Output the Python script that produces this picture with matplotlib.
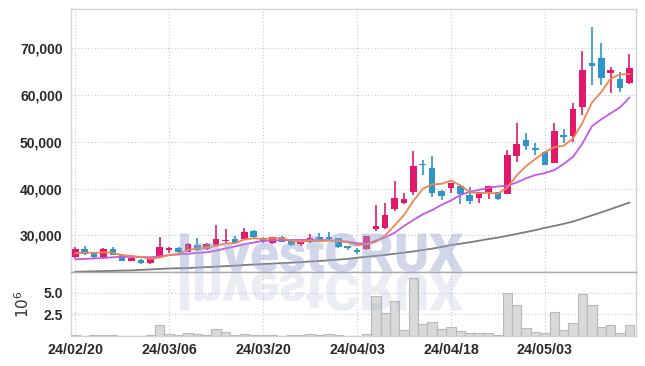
import numpy as np
import matplotlib.pyplot as plt
from matplotlib.textpath import TextPath
from matplotlib.patches import PathPatch
from matplotlib.font_manager import FontProperties
from matplotlib.transforms import Affine2D
from matplotlib.ticker import FuncFormatter

plt.rcParams['font.family'] = ['Liberation Sans', 'DejaVu Sans']

# tick labels on the date axis (every 10 trading days)
date_labels = ['24/02/20', '24/03/06', '24/03/20', '24/04/03', '24/04/18', '24/05/03']
date_pos = [0, 10, 20, 30, 40, 50]

opens = [25400, 27150, 26300, 25300, 27000, 25800, 24550, 24800, 24000, 25300,
         26850, 27200, 26500, 27850, 27000, 27850, 28700, 29150, 29150, 30900,
         29500, 28300, 29650, 28800, 28100, 28500, 29550, 29550, 29350, 27700,
         26850, 27000, 31300, 31500, 35550, 36950, 39350, 45350, 44350, 39550,
         40200, 40600, 38600, 37900, 39100, 39200, 38900, 47050, 50400, 48600,
         47750, 45550, 51450, 51250, 57500, 66800, 67850, 64650, 63350, 62500]
highs = [27550, 27700, 26400, 27350, 27550, 26000, 25300, 25000, 25300, 29550,
         27550, 27400, 28400, 29500, 28300, 32150, 31350, 29850, 31600, 31050,
         29600, 29700, 29800, 28900, 28800, 30200, 30550, 30750, 29500, 27800,
         27200, 29900, 36500, 36950, 41700, 39100, 48100, 46100, 46950, 39700,
         41200, 40700, 40400, 39300, 40650, 39300, 48250, 54100, 51800, 49800,
         47900, 54100, 52650, 58250, 69500, 74500, 71050, 66050, 65000, 68700]
lows = [25150, 25800, 25200, 25200, 25700, 24500, 24450, 23950, 23850, 25200,
        26150, 26300, 26400, 26700, 26900, 27700, 28300, 28300, 29000, 29500,
        28400, 28100, 28550, 27800, 27700, 28300, 29000, 29000, 27200, 26850,
        26050, 26900, 30900, 31300, 35250, 36700, 38600, 42900, 38250, 37550,
        39050, 36650, 36650, 36850, 37750, 37600, 38800, 45750, 48250, 47200,
        44950, 45400, 49800, 50000, 55750, 62150, 62150, 60400, 60700, 62400]
closes = [27000, 26000, 25300, 27150, 25800, 24550, 25150, 24150, 25000, 27450,
          27200, 26350, 28150, 26850, 28150, 29150, 29000, 28400, 30700, 29550,
          28500, 29550, 28650, 27900, 28650, 29500, 29150, 29150, 27550, 27200,
          26500, 29850, 32000, 34350, 37900, 37750, 44800, 45050, 39100, 38400,
          41100, 38850, 37350, 39200, 40550, 37700, 47200, 49450, 49150, 48200,
          45050, 52300, 50950, 56950, 65350, 66300, 63600, 65350, 61450, 65700]

# volume in millions of shares
volume = [0.15, 0.08, 0.12, 0.2, 0.1, 0.08, 0.05, 0.08, 0.12, 1.35,
          0.25, 0.1, 0.35, 0.25, 0.15, 0.8, 0.45, 0.15, 0.32, 0.12,
          0.15, 0.1, 0.06, 0.1, 0.12, 0.25, 0.18, 0.25, 0.15, 0.08,
          0.06, 0.32, 4.62, 2.68, 4.04, 0.76, 6.66, 1.38, 1.64, 0.88,
          1.06, 0.65, 0.34, 0.42, 0.42, 0.19, 4.93, 3.54, 1.0, 0.53,
          0.42, 2.73, 0.76, 1.57, 4.81, 3.54, 1.06, 1.34, 0.42, 1.34]

# moving averages as drawn on the chart
ma5 = [26150, 26300, 26250, 26350, 26250, 25750, 25600, 25350, 24950, 25250,
       25800, 26050, 26850, 27200, 27350, 27750, 28250, 28300, 29100, 29350,
       29250, 29350, 29400, 28850, 28650, 28850, 28750, 28850, 28800, 28500,
       27900, 28050, 28600, 30000, 32100, 34350, 37350, 39950, 40900, 41000,
       41700, 40700, 39200, 39000, 39100, 38900, 40200, 42800, 44800, 46350,
       47800, 48850, 49150, 50700, 54100, 58350, 60650, 63500, 64400, 64500]
ma20 = [24870, 24950, 25050, 25150, 25300, 25400, 25400, 25350, 25300, 25500,
        25750, 25900, 26050, 26250, 26350, 26700, 27200, 27600, 28100, 28450,
        28800, 28900, 28950, 29000, 29000, 29000, 29000, 28950, 28800, 28650,
        28300, 28150, 28850, 29550, 30550, 32000, 33250, 34500, 35400, 36500,
        37450, 38600, 39300, 39700, 40150, 40450, 40600, 41300, 42200, 42900,
        43300, 43950, 45250, 46800, 49650, 53300, 54800, 56100, 57350, 59450]
ma60 = [22200, 22250, 22300, 22350, 22400, 22450, 22500, 22600, 22700, 22800,
        22900, 22950, 23000, 23100, 23200, 23300, 23400, 23500, 23650, 23750,
        23850, 23950, 24050, 24150, 24250, 24400, 24500, 24650, 24800, 24950,
        25200, 25400, 25600, 25800, 26050, 26300, 26550, 26850, 27150, 27500,
        27900, 28200, 28500, 28850, 29200, 29500, 29900, 30300, 30700, 31100,
        31600, 32000, 32450, 32950, 33600, 34250, 34900, 35600, 36300, 37000]

UP = '#e2196b'
DOWN = '#2e95c9'
GRID = '#c3c7dd'
W, H = 645, 366

fig = plt.figure(figsize=(W / 100, H / 100), dpi=100)
ax = fig.add_axes([71 / W, (H - 272) / H, (636 - 71) / W, (272 - 9) / H])
axv = fig.add_axes([71 / W, (H - 336.3) / H, (636 - 71) / W, (336.3 - 272) / H], sharex=ax)

x = np.arange(len(closes))
o = np.array(opens)
c = np.array(closes)
colors = [UP if cc >= oo else DOWN for oo, cc in zip(o, c)]
bottoms = np.minimum(o, c)
heights = np.maximum(np.abs(c - o), 150)

ax.vlines(x, lows, highs, colors=colors, linewidth=1.2, zorder=3)
ax.bar(x, heights, bottom=bottoms, width=0.7, color=colors, linewidth=0, zorder=4)

ax.plot(x, ma60, color='#7d7d7d', linewidth=1.3, zorder=5)
ax.plot(x, ma20, color='#c757e8', linewidth=1.3, zorder=5)
ax.plot(x, ma5, color='#ef8650', linewidth=1.3, zorder=6)

ax.set_xlim(-0.45, 59.7)
ax.set_ylim(22150, 78400)
ax.set_yticks([30000, 40000, 50000, 60000, 70000])
ax.yaxis.set_major_formatter(FuncFormatter(lambda v, p: f'{int(v):,}'))

axv.bar(x, volume, width=1.0, color='#d9d9d9', edgecolor='#b9b9b9', linewidth=0.8, zorder=3)
axv.set_ylim(0, 7.37)
axv.set_yticks([2.5, 5.0])
axv.set_yticklabels(['2.5', '5.0'])
axv.set_ylabel('$10^6$', fontsize=11, color='#333333', labelpad=8)
axv.set_xticks(date_pos)
axv.set_xticklabels(date_labels)

for a in (ax, axv):
    a.grid(True, color=GRID, linestyle=(0, (1, 2)), linewidth=0.8)
    a.set_axisbelow(True)
    a.tick_params(length=0, pad=6, labelsize=10, colors='#2a2a2a')
    for s in a.spines.values():
        s.set_color('#d3d3dc')
        s.set_linewidth(1.0)
    for lab in a.get_xticklabels() + a.get_yticklabels():
        lab.set_fontweight('bold')
ax.tick_params(labelbottom=False)
axv.tick_params(axis='x', labelsize=10.3, pad=5)
ax.spines['bottom'].set_color('#aaaaaa')
axv.spines['top'].set_color('#aaaaaa')

# watermark with its reflection below the panel divider
fp = FontProperties(family=['Roboto', 'DejaVu Sans'], weight=900)
tp = TextPath((0, 0), 'InvestCRUX', size=40, prop=fp)
ext = tp.get_extents()
sx = (463 - 180) / ext.width
sy = (272 - 233) / ext.height
base = Affine2D().translate(-ext.x0, -ext.y0)
t1 = base + Affine2D().scale(sx, sy).translate(180, H - 272)
t2 = base + Affine2D().scale(sx, -sy).translate(180, H - 272)
fig.add_artist(PathPatch(tp, transform=t1, facecolor='#9aa5cc', edgecolor='none', alpha=0.45, zorder=10))
fig.add_artist(PathPatch(tp, transform=t2, facecolor='#9aa5cc', edgecolor='none', alpha=0.2, zorder=10))

fig.savefig('out.png', dpi=100)
